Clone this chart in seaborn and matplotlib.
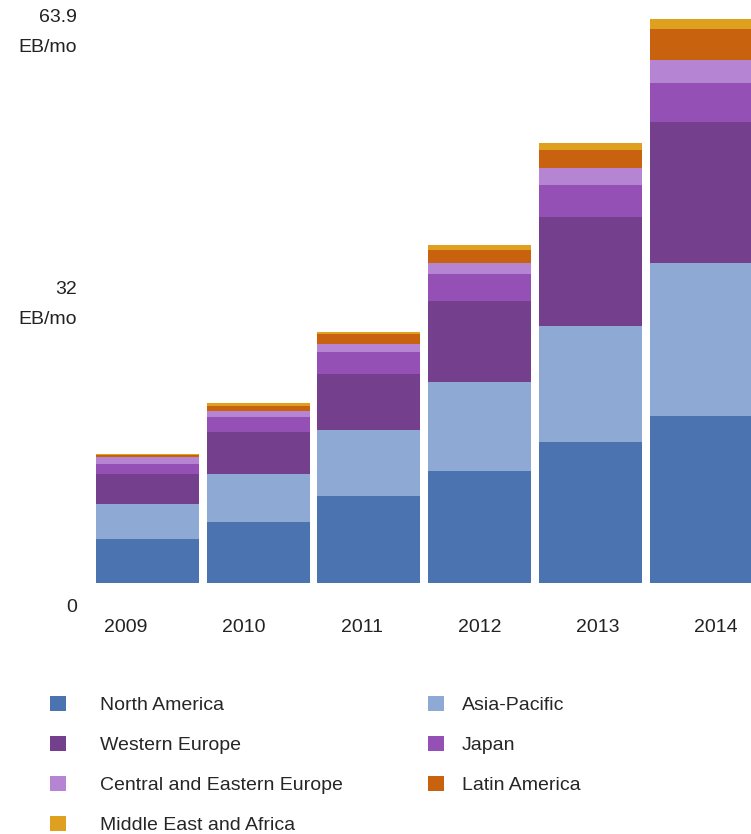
import matplotlib
matplotlib.use("Agg")
import matplotlib.pyplot as plt
import numpy as np
import pandas as pd
import seaborn as sns
from matplotlib.patches import Patch

# monthly IP traffic by region, EB/mo
YEARS = ["2009", "2010", "2011", "2012", "2013", "2014"]
REGIONS = ["North America", "Asia-Pacific", "Western Europe", "Japan",
           "Central and Eastern Europe", "Latin America", "Middle East and Africa"]
north_america = [4.97, 6.95, 9.86, 12.68, 15.99, 18.9]
asia_pacific = [4.06, 5.46, 7.53, 10.08, 13.17, 17.4]
western_europe = [3.39, 4.78, 6.32, 9.22, 12.31, 16.0]
japan = [1.13, 1.61, 2.44, 3.01, 3.69, 4.33]
central_eastern_europe = [0.75, 0.75, 0.95, 1.31, 1.88, 2.63]
latin_america = [0.23, 0.55, 1.13, 1.51, 2.08, 3.58]
middle_east_africa = [0.15, 0.32, 0.25, 0.56, 0.75, 1.13]
COLORS = ["#4b73b0", "#8ea9d3", "#743f8c", "#9450b5", "#b584d2", "#c9620f", "#e0a01f"]
LEGEND_LEFT = ["North America", "Western Europe", "Central and Eastern Europe",
               "Middle East and Africa"]
LEGEND_RIGHT = ["Asia-Pacific", "Japan", "Latin America"]

sns.set_style("white")
plt.rcParams["font.family"] = ["Liberation Sans", "DejaVu Sans"]
FS = 14
TXT = "#222222"

series = [north_america, asia_pacific, western_europe, japan,
          central_eastern_europe, latin_america, middle_east_africa]
df = pd.DataFrame(dict(zip(REGIONS, series)), index=YEARS)
cum = df.cumsum(axis=1)

W, H = 751, 834
fig = plt.figure(figsize=(W / 100, H / 100), dpi=100)
ax = fig.add_axes([92 / W, (H - 583.3) / H, (W - 92) / W, 582.6 / H])

# draw cumulative totals from the top layer down so each layer shows as a band
for region, color in reversed(list(zip(REGIONS, COLORS))):
    sns.barplot(x=YEARS, y=cum[region].values, color=color, saturation=1,
                width=0.93, ax=ax, linewidth=0)

ax.set_xlim(-0.5, 5.45)
ax.set_ylim(0, 66)
ax.set_yticks([])
ax.set_xticks([])
ax.set_xlabel("")
ax.set_ylabel("")
sns.despine(ax=ax, left=True, bottom=True)


def px(x, y):
    return x / W, 1 - y / H


# year labels sit on their own even grid below the bars
for i, yr in enumerate(YEARS):
    fig.text(*px(126 + 118 * i, 628), yr, ha="center", va="center",
             fontsize=FS, color=TXT)

# value labels on the left
lbl = dict(ha="right", va="center", fontsize=FS, color=TXT)
fig.text(*px(77, 18), "63.9", **lbl)
fig.text(*px(77, 47), "EB/mo", **lbl)
fig.text(*px(77, 290), "32", **lbl)
fig.text(*px(77, 320), "EB/mo", **lbl)
fig.text(*px(77, 607), "0", **lbl)

color_of = dict(zip(REGIONS, COLORS))
leg_kw = dict(loc="upper left", frameon=False, fontsize=FS, handlelength=0.8,
              handleheight=0.8, labelspacing=1.12, borderpad=0, borderaxespad=0)
# two legend columns with different text gaps, so two legends
fig.legend(handles=[Patch(facecolor=color_of[r], edgecolor="none", label=r)
                    for r in LEGEND_LEFT],
           bbox_to_anchor=px(50, 696), handletextpad=1.75, **leg_kw)
fig.legend(handles=[Patch(facecolor=color_of[r], edgecolor="none", label=r)
                    for r in LEGEND_RIGHT],
           bbox_to_anchor=px(428, 696), handletextpad=0.95, **leg_kw)

fig.savefig("out.png", dpi=100, facecolor="white")
